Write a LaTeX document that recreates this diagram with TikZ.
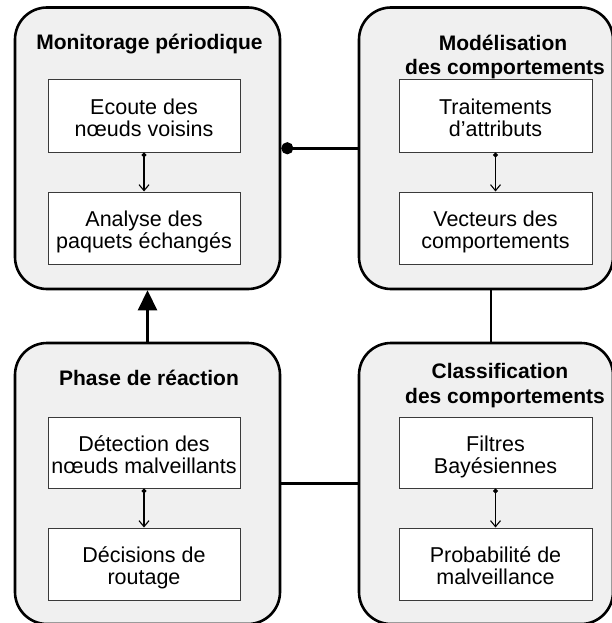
\documentclass[tikz,border=0pt]{standalone}
\usepackage{fontspec}
\setmainfont{Liberation Sans}
\usetikzlibrary{arrows.meta}
\definecolor{panelfill}{HTML}{F0F0F0}
\definecolor{innerline}{HTML}{3A3A3A}
\tikzset{
  panel/.style={draw=black, line width=2.6pt, fill=panelfill, rounded corners=32pt, inner sep=0pt},
  inner/.style={draw=innerline, line width=1pt, fill=white, inner sep=0pt, minimum width=192pt, minimum height=72pt, align=center, text height=41.5pt, text depth=0pt, font=\fontsize{21.5}{22}\selectfont},
  ttl/.style={anchor=base, inner sep=0pt, font=\fontsize{21}{24}\selectfont\bfseries},
  conn/.style={line width=2.6pt},
  innerarrow/.style={line width=1.1pt, {Circle[length=5pt]}-{Straight Barb[length=6pt,width=10pt,line width=1.1pt]}},
}
\begin{document}
\begin{tikzpicture}[x=1pt,y=-1pt]
\useasboundingbox (0,0) rectangle (612,623);
\clip (0,0) rectangle (612,623);
% panels
\node[panel, minimum width=265pt, minimum height=281.5pt] (TL) at (147.5,148.25) {};
\node[panel, minimum width=254pt, minimum height=281.5pt] (TR) at (486,148.25) {};
\node[panel, minimum width=265pt, minimum height=281pt] (BL) at (147.5,483.5) {};
\node[panel, minimum width=254pt, minimum height=281pt] (BR) at (486,483.5) {};
% titles
\node[ttl] (tTL) at (149.5,50) {Monitorage périodique};
\node[ttl] (tTR1) at (503,50.5) {Modélisation};
\node[ttl] (tTR2) at (505,75) {des comportements};
\node[ttl] (tBL) at (149,385) {Phase de réaction};
\node[ttl] (tBR1) at (500,378) {Classification};
\node[ttl] (tBR2) at (505,403) {des comportements};
% inner boxes
\node[inner] (a1) at (144,116) {Ecoute des\\nœuds voisins};
\node[inner] (a2) at (144,228) {Analyse des\\paquets échangés};
\node[inner, minimum width=193pt] (b1) at (495.5,116) {Traitements\\d’attributs};
\node[inner, minimum width=193pt] (b2) at (495.5,228) {Vecteurs des\\comportements};
\node[inner, minimum height=71pt] (c1) at (144,452.5) {Détection des\\nœuds malveillants};
\node[inner] (c2) at (144,564) {Décisions de\\routage};
\node[inner, minimum width=193pt, minimum height=71pt] (d1) at (495.5,452.5) {Filtres\\Bayésiennes};
\node[inner, minimum width=193pt] (d2) at (495.5,564) {Probabilité de\\malveillance};
% inner arrows
\draw[innerarrow] (a1.south) -- (a2.north);
\draw[innerarrow] (b1.south) -- (b2.north);
\draw[innerarrow] (c1.south) -- (c2.north);
\draw[innerarrow] (d1.south) -- (d2.north);
% connectors
\draw[conn, {Circle[length=12pt]}-] (TL.east) -- (TR.west);
\coordinate (vx) at (491,0);
\draw[conn] (vx |- TR.south) -- (vx |- BR.north);
\draw[conn] (BL.east) -- (BR.west);
\draw[conn, -{Triangle[length=20pt,width=19pt]}] (BL.north) -- (TL.south);
\end{tikzpicture}
\end{document}
